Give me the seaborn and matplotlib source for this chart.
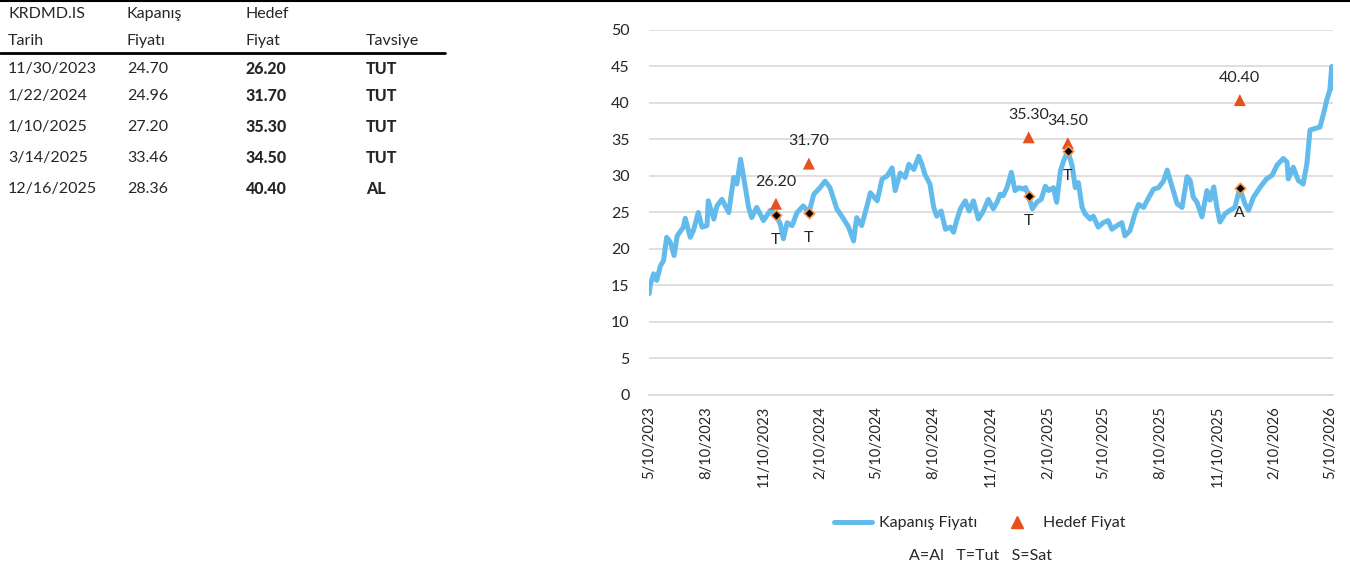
import pandas as pd
import numpy as np
import seaborn as sns
from matplotlib import pyplot as plt
from matplotlib.lines import Line2D
import matplotlib.dates as mdates

# fiyat serisi: 5/10/2023'ten itibaren gün sayısı ve kapanış fiyatı
START = pd.Timestamp("2023-05-10")
day_offsets = [
    0, 2, 7, 12, 18, 23, 28, 34, 40, 45, 55, 58, 66, 71, 79, 85, 93, 95, 104, 109,
    117, 128, 136, 141, 147, 152, 160, 165, 173, 184, 195, 204, 211, 216, 222, 230,
    238, 248, 257, 265, 275, 283, 291, 302, 313, 321, 329, 334, 342, 350, 356, 367,
    375, 383, 391, 396, 404, 412, 418, 426, 434, 439, 444, 452, 458, 463, 470, 477,
    485, 490, 495, 501, 509, 515, 522, 530, 538, 546, 554, 560, 565, 570, 576, 583,
    589, 595, 603, 606, 611, 617, 624, 631, 638, 643, 651, 656, 662, 667, 674, 681,
    686, 691, 697, 702, 710, 715, 723, 731, 739, 745, 753, 761, 766, 774, 782, 788,
    796, 804, 812, 820, 828, 834, 842, 850, 858, 866, 871, 876, 882, 890, 898, 903,
    909, 914, 919, 927, 935, 943, 951, 959, 965, 973, 984, 994, 1003, 1011, 1021,
    1027, 1029, 1037, 1045, 1053, 1059, 1064, 1072, 1080, 1086, 1091, 1096, 1099, 1102,
]
close_prices = [
    13.9, 15.2, 16.6, 15.7, 17.7, 18.4, 21.6, 20.9, 19.1, 21.8, 23.0, 24.2, 21.6, 22.5,
    25.0, 23.0, 23.2, 26.6, 24.1, 25.9, 26.8, 25.0, 29.8, 28.9, 32.3, 29.8, 25.7, 24.3,
    25.7, 23.9, 25.3, 24.7, 23.4, 21.4, 23.6, 23.2, 25.0, 25.9, 24.96, 27.5, 28.4, 29.3,
    28.4, 25.5, 24.1, 23.0, 21.1, 24.3, 23.2, 25.7, 27.7, 26.6, 29.6, 30.0, 31.1, 28.0,
    30.4, 29.8, 31.6, 30.9, 32.7, 31.6, 30.2, 28.9, 25.7, 24.5, 25.2, 22.7, 23.0, 22.3,
    23.9, 25.5, 26.6, 25.2, 26.6, 24.1, 25.2, 26.8, 25.5, 26.4, 27.5, 27.3, 28.4, 30.5,
    28.0, 28.4, 28.2, 28.4, 27.2, 25.5, 26.4, 26.8, 28.6, 28.0, 28.4, 26.4, 30.7, 32.0,
    33.46, 31.4, 28.4, 29.1, 25.7, 24.8, 24.1, 24.5, 23.0, 23.6, 23.9, 22.7, 23.2, 23.6,
    21.8, 22.5, 24.8, 26.1, 25.7, 27.0, 28.2, 28.4, 29.3, 30.8, 28.5, 26.2, 25.7, 29.9,
    29.4, 27.1, 26.4, 24.4, 28.0, 26.7, 28.5, 25.7, 23.7, 24.8, 25.3, 25.7, 28.36, 26.2,
    25.3, 27.1, 28.5, 29.6, 30.1, 31.5, 32.4, 31.9, 29.6, 31.2, 29.4, 28.9, 31.7, 36.3,
    36.5, 36.7, 38.6, 40.4, 41.8, 45.0, 42.0,
]

# tavsiye tablosu
rec_dates = ["2023-11-30", "2024-01-22", "2025-01-10", "2025-03-14", "2025-12-16"]
rec_labels = ["11/30/2023", "1/22/2024", "1/10/2025", "3/14/2025", "12/16/2025"]
rec_close = [24.70, 24.96, 27.20, 33.46, 28.36]
rec_target = [26.20, 31.70, 35.30, 34.50, 40.40]
rec_advice = ["TUT", "TUT", "TUT", "TUT", "AL"]

tick_dates = ["2023-05-10", "2023-08-10", "2023-11-10", "2024-02-10", "2024-05-10",
              "2024-08-10", "2024-11-10", "2025-02-10", "2025-05-10", "2025-08-10",
              "2025-11-10", "2026-02-10", "2026-05-10"]

LINE_COLOR = "#63BBEB"
TRI_COLOR = "#E8501E"

sns.set_style("white")
plt.rcParams['font.family'] = ['Lato', 'DejaVu Sans']
plt.rcParams['axes.unicode_minus'] = False

prices = pd.DataFrame({
    "Tarih": START + pd.to_timedelta(day_offsets, unit="D"),
    "Fiyat": close_prices,
})
recs = pd.DataFrame({
    "Tarih": pd.to_datetime(rec_dates),
    "Kapanis": rec_close,
    "Hedef": rec_target,
    "Tavsiye": rec_advice,
})

fig = plt.figure(figsize=(13.5, 5.68), dpi=100)
ax = fig.add_axes([0.4807, 0.3046, 0.5067, 0.6426])

sns.lineplot(data=prices, x="Tarih", y="Fiyat", ax=ax, color=LINE_COLOR, lw=3.6,
             solid_joinstyle="round")
sns.scatterplot(data=recs, x="Tarih", y="Hedef", ax=ax, marker="^", s=75,
                color=TRI_COLOR, edgecolor="none", zorder=4)
sns.scatterplot(data=recs, x="Tarih", y="Kapanis", ax=ax, marker="D", s=28,
                color="black", edgecolor="#F39A50", linewidth=1.2, zorder=5)

for _, r in recs.iterrows():
    ax.annotate(f"{r['Hedef']:.2f}", (r["Tarih"], r["Hedef"]), xytext=(0, 16),
                textcoords="offset points", ha="center", va="center", fontsize=11.5)
    ax.annotate(r["Tavsiye"][0], (r["Tarih"], r["Kapanis"]), xytext=(0, -18),
                textcoords="offset points", ha="center", va="center", fontsize=11.5)

ax.set_ylim(0, 50)
ax.set_yticks(range(0, 51, 5))
ax.set_xlim(START - pd.Timedelta(days=0.5), pd.Timestamp("2026-05-15"))
ax.set_xticks(pd.to_datetime(tick_dates))
ax.xaxis.set_major_formatter(mdates.DateFormatter("%-m/%d/%Y"))
ax.set_xlabel("")
ax.set_ylabel("")
ax.grid(axis="y", color="#D9D9D9", lw=1.2)
ax.set_axisbelow(True)
for side in ["top", "right", "left"]:
    ax.spines[side].set_visible(False)
ax.spines["bottom"].set_color("#D9D9D9")
ax.spines["bottom"].set_linewidth(1.2)
ax.tick_params(axis="x", rotation=90, labelsize=10.5, length=5, width=1.2,
               color="#D9D9D9", pad=3)
ax.tick_params(axis="y", labelsize=11.5, length=0, pad=14)

handles = [
    Line2D([], [], color=LINE_COLOR, lw=3.6),
    Line2D([], [], color=TRI_COLOR, marker="^", ls="none", markersize=8),
]
fig.legend(handles, ["Kapanış Fiyatı", "Hedef Fiyat"], loc="center",
           bbox_to_anchor=(0.7256, 0.079), ncol=2, frameon=False, fontsize=11.5,
           handlelength=2.4, columnspacing=1.3, handletextpad=0.4)
fig.text(0.726, 0.021, "A=Al   T=Tut   S=Sat", ha="center", va="center", fontsize=11.5)

# sol taraftaki tablo
cols_x = [8 / 1350, 127 / 1350, 245 / 1350, 366 / 1350]


def fy(py):
    return 1 - py / 568


fig.text(cols_x[0], fy(14), "KRDMD.IS", fontsize=11.5, va="center")
fig.text(cols_x[1], fy(14), "Kapanış", fontsize=11.5, va="center")
fig.text(cols_x[2], fy(14), "Hedef", fontsize=11.5, va="center")
fig.text(cols_x[0], fy(41), "Tarih", fontsize=11.5, va="center")
fig.text(cols_x[1], fy(41), "Fiyatı", fontsize=11.5, va="center")
fig.text(cols_x[2], fy(41), "Fiyat", fontsize=11.5, va="center")
fig.text(cols_x[3], fy(41), "Tavsiye", fontsize=11.5, va="center")
fig.add_artist(Line2D([0, 445 / 1350], [fy(53), fy(53)], color="black", lw=2))

row_y = [69, 96, 127, 158, 189]
for i in range(len(rec_labels)):
    fig.text(cols_x[0], fy(row_y[i]), rec_labels[i], fontsize=11.5, va="center")
    fig.text(cols_x[1], fy(row_y[i]), f"{rec_close[i]:.2f}", fontsize=11.5, va="center")
    fig.text(cols_x[2], fy(row_y[i]), f"{rec_target[i]:.2f}", fontsize=11.5,
             va="center", fontweight="black")
    fig.text(cols_x[3], fy(row_y[i]), rec_advice[i], fontsize=11.5, va="center",
             fontweight="black")

fig.add_artist(Line2D([0, 1], [0.999, 0.999], color="black", lw=1.5))

fig.savefig("out.png", dpi=100)
